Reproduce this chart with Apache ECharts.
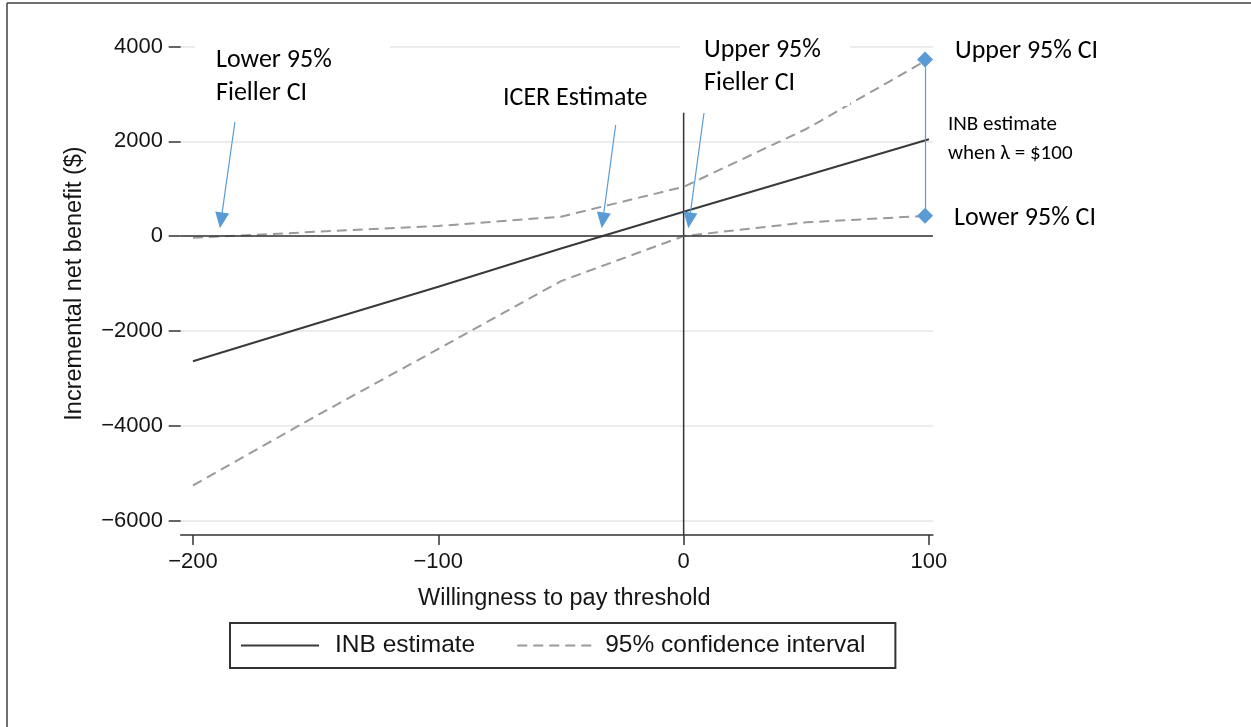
<!DOCTYPE html>
<html>
<head>
<meta charset="utf-8">
<script src="https://cdn.jsdelivr.net/npm/echarts@6/dist/echarts.min.js"></script>
<style>html,body{margin:0;padding:0;background:#fff;}#chart{width:1251px;height:727px;}</style>
</head>
<body>
<div id="chart"></div>
<script>
// ---- data ----
const wtp = [-200, -150, -100, -50, 0, 50, 100];
const inbEstimate = [-2640, -1850, -1070, -260, 512, 1280, 2042];
const ciUpper = [-35, 90, 215, 410, 1040, 2260, 3740];
const ciLower = [-5260, -3800, -2380, -950, 0, 290, 430];
const xTicks = [-200, -100, 0, 100];
const seriesNames = ['INB estimate', '95% confidence interval'];
// annotation anchors (data space)
const ciAtLambda = { x: 98.4, upper: 3726, lower: 428 };
const arrowFrom = [[-182.9, 2407], [-27.7, 2344], [8.3, 2597]];
const arrowTo = [[-188.55, 331], [-32.96, 331], [2.34, 331]];
const vlineTop = 2600, vlineBottom = -6300;

const pairs = (xs, ys) => xs.map((x, i) => [x, ys[i]]);
const fmt = v => (v < 0 ? '\u2212' + Math.abs(v) : String(v));
const HELV = 'Liberation Sans, Arial, sans-serif';
const CAL = 'Carlito, Lato, sans-serif';
const BLUE = '#5B9BD5';
const TXT = '#151515';

const chart = echarts.init(document.getElementById('chart'), null, { renderer: 'canvas' });

const dashStyle = { color: '#9a9a9a', width: 2, type: [10, 6] };

const option = {
  animation: false,
  backgroundColor: '#fff',
  grid: { left: 180.7, right: 318.1, top: 46.5, bottom: 206.5, containLabel: false },
  xAxis: {
    type: 'value', min: -205, max: 101.6, offset: 14.5,
    name: 'Willingness to pay threshold', nameLocation: 'middle', nameGap: 52,
    nameTextStyle: { fontFamily: HELV, fontSize: 23.5, color: TXT, padding: [0, 0, 0, 15] },
    axisLine: { show: true, onZero: false, lineStyle: { color: '#333', width: 1.5 } },
    axisTick: { show: true, length: 10, customValues: xTicks, lineStyle: { color: '#333', width: 1.5 } },
    axisLabel: { customValues: xTicks, margin: 16, fontFamily: HELV, fontSize: 22, color: TXT, formatter: fmt },
    splitLine: { show: false }
  },
  yAxis: {
    type: 'value', min: -6000, max: 4000, interval: 2000,
    name: 'Incremental net benefit ($)', nameLocation: 'middle', nameGap: 94, nameRotate: 90,
    nameTextStyle: { fontFamily: HELV, fontSize: 23.5, color: TXT },
    axisLine: { show: false, onZero: false },
    axisTick: { show: true, length: 12, lineStyle: { color: '#333', width: 1.5 } },
    axisLabel: { margin: 17.7, fontFamily: HELV, fontSize: 22, color: TXT, formatter: fmt },
    splitLine: { show: true, lineStyle: { color: '#e6e6e6', width: 1.5 } }
  },
  legend: {
    left: 230, top: 623, orient: 'horizontal', padding: [10, 30, 10, 10],
    itemGap: 41, itemWidth: 78, itemHeight: 14,
    borderColor: '#333', borderWidth: 2, backgroundColor: '#fff', selectedMode: false,
    itemStyle: { opacity: 0 },
    textStyle: { fontFamily: HELV, fontSize: 24.5, color: TXT },
    data: [
      { name: seriesNames[0], textStyle: { padding: [0, 0, 0, 11] } },
      { name: seriesNames[1], textStyle: { padding: [0, 0, 0, 5] } }
    ]
  },
  series: [
    {
      name: 'zero line', type: 'line', data: [], silent: true,
      markLine: {
        silent: true, symbol: ['none', 'none'], label: { show: false },
        lineStyle: { color: '#333', width: 1.5, type: 'solid' },
        data: [{ yAxis: 0 }]
      }
    },
    {
      name: 'lambda zero', type: 'line', clip: false, silent: true, symbol: 'none', z: 2,
      data: [[0, vlineBottom], [0, vlineTop]],
      lineStyle: { color: '#333', width: 1.5 }
    },
    {
      name: seriesNames[1], type: 'line', symbol: 'none', z: 3,
      data: pairs(wtp, ciUpper),
      itemStyle: { color: '#9a9a9a' }, lineStyle: dashStyle
    },
    {
      name: seriesNames[1], type: 'line', symbol: 'none', z: 3,
      data: pairs(wtp, ciLower),
      itemStyle: { color: '#9a9a9a' }, lineStyle: dashStyle
    },
    {
      name: seriesNames[0], type: 'line', symbol: 'none', z: 4,
      data: pairs(wtp, inbEstimate),
      itemStyle: { color: '#3a3a3a' }, lineStyle: { color: '#3a3a3a', width: 2 }
    },
    {
      name: 'arrows', type: 'line', data: [], silent: true, z: 6,
      markLine: {
        silent: true, label: { show: false }, symbol: ['none', 'triangle'], symbolSize: [14, 16],
        lineStyle: { color: BLUE, width: 1.2, type: 'solid' },
        itemStyle: { color: BLUE },
        data: arrowFrom.map((f, i) => [{ coord: f }, { coord: arrowTo[i] }])
      }
    },
    {
      name: 'ci bracket', type: 'line', data: [], silent: true, z: 6,
      markLine: {
        silent: true, label: { show: false }, symbol: ['diamond', 'diamond'], symbolSize: 16,
        lineStyle: { color: BLUE, width: 1.2, type: 'solid' },
        itemStyle: { color: BLUE },
        data: [[{ coord: [ciAtLambda.x, ciAtLambda.upper] }, { coord: [ciAtLambda.x, ciAtLambda.lower] }]]
      }
    }
  ],
  graphic: [
    { type: 'line', z: 100, shape: { x1: 7, y1: 3, x2: 1251, y2: 3 }, style: { stroke: '#404040', lineWidth: 1.5 } },
    { type: 'line', z: 100, shape: { x1: 7, y1: 3, x2: 7, y2: 727 }, style: { stroke: '#404040', lineWidth: 1.5 } },
    { type: 'rect', z: 100, shape: { x: 195, y: 28, width: 195, height: 80 }, style: { fill: '#fff' } },
    { type: 'rect', z: 100, shape: { x: 680, y: 28, width: 170, height: 78 }, style: { fill: '#fff' } },
    { type: 'text', z: 101, style: { text: 'Lower 95%', x: 216, y: 60, font: '26px ' + CAL, fill: '#000', align: 'left', verticalAlign: 'middle' } },
    { type: 'text', z: 101, style: { text: 'Fieller CI', x: 216, y: 93, font: '26px ' + CAL, fill: '#000', align: 'left', verticalAlign: 'middle' } },
    { type: 'text', z: 101, style: { text: 'ICER Estimate', x: 503, y: 98.5, font: '26px ' + CAL, fill: '#000', align: 'left', verticalAlign: 'middle' } },
    { type: 'text', z: 101, style: { text: 'Upper 95%', x: 704, y: 50, font: '26px ' + CAL, fill: '#000', align: 'left', verticalAlign: 'middle' } },
    { type: 'text', z: 101, style: { text: 'Fieller CI', x: 704, y: 83, font: '26px ' + CAL, fill: '#000', align: 'left', verticalAlign: 'middle' } },
    { type: 'text', z: 101, style: { text: 'Upper 95% CI', x: 955, y: 51.7, font: '26px ' + CAL, fill: '#000', align: 'left', verticalAlign: 'middle' } },
    { type: 'text', z: 101, style: { text: 'INB estimate', x: 948, y: 125, font: '21px ' + CAL, fill: '#000', align: 'left', verticalAlign: 'middle' } },
    { type: 'text', z: 101, style: { text: 'when \u03bb = $100', x: 948, y: 154, font: '21px ' + CAL, fill: '#000', align: 'left', verticalAlign: 'middle' } },
    { type: 'text', z: 101, style: { text: 'Lower 95% CI', x: 954, y: 218.7, font: '26px ' + CAL, fill: '#000', align: 'left', verticalAlign: 'middle' } }
  ]
};
chart.setOption(option);
</script>
</body>
</html>
